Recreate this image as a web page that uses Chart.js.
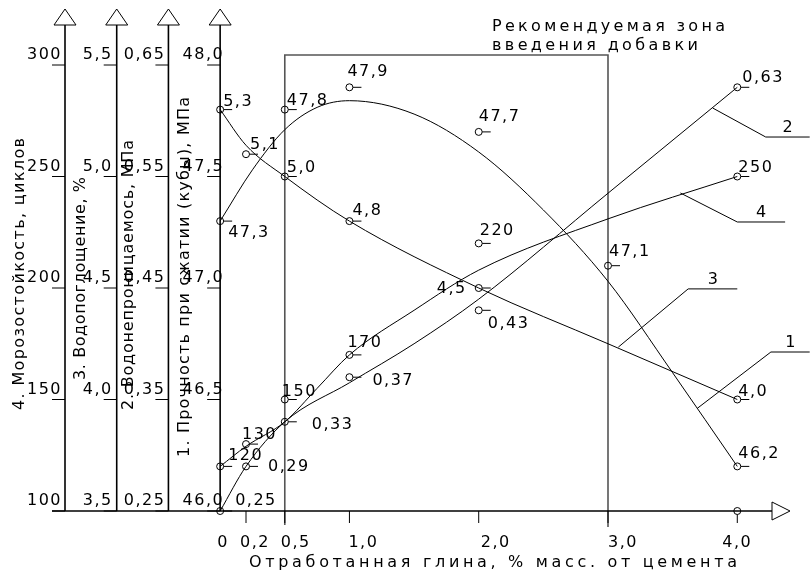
<!DOCTYPE html>
<html>
<head>
<meta charset="utf-8">
<script src="https://cdn.jsdelivr.net/npm/chart.js@4.4.0/dist/chart.umd.min.js"></script>
<style>
  html, body { margin: 0; padding: 0; background: #fff; }
  #wrap { position: relative; width: 811px; height: 573px; }
</style>
</head>
<body>
<div id="wrap"><canvas id="chart"></canvas></div>
<script>
// measured points (x = clay, % of cement mass)
const strengthClay = [0, 0.5, 1.0, 2.0, 3.0, 4.0]
const strength = [47.3, 47.8, 47.9, 47.7, 47.1, 46.2]
const impermClay = [0, 0.2, 0.5, 1.0, 2.0, 4.0]
const imperm = [0.25, 0.29, 0.33, 0.37, 0.43, 0.63]
const absorptionClay = [0, 0.2, 0.5, 1.0, 2.0, 4.0]
const absorption = [5.3, 5.1, 5.0, 4.8, 4.5, 4.0]
const frostClay = [0, 0.2, 0.5, 1.0, 2.0, 4.0]
const frost = [120, 130, 150, 170, 220, 250]

// approximating curves
const strengthFitClay = [0, 0.25, 0.5, 0.75, 1.0, 1.5, 2.0, 2.5, 3.0, 3.5, 4.0]
const strengthFit = [47.30, 47.53, 47.71, 47.81, 47.84, 47.78, 47.61, 47.35, 47.03, 46.62, 46.20]
const impermFitClay = [0, 0.2, 0.5, 1.0, 1.5, 2.0, 3.0, 4.0]
const impermFit = [0.25, 0.29, 0.33, 0.365, 0.40, 0.44, 0.535, 0.63]
const absorptionFitClay = [0, 0.2, 0.5, 1.0, 2.0, 3.0, 4.0]
const absorptionFit = [5.3, 5.14, 5.0, 4.8, 4.5, 4.25, 4.0]
const frostFitClay = [0, 0.2, 0.5, 0.75, 1.0, 1.5, 2.0, 3.0, 4.0]
const frostFit = [120, 129, 140, 155, 170, 190, 208, 231, 250]

const clayTicks = [0, 0.2, 0.5, 1.0, 2.0, 3.0, 4.0]
const clayTickLabels = ['0', '0,2', '0,5', '1,0', '2,0', '3,0', '4,0']
const frostTicks = [100, 150, 200, 250, 300]
const absorptionTicks = [3.5, 4.0, 4.5, 5.0, 5.5]
const impermTicks = [0.25, 0.35, 0.45, 0.55, 0.65]
const strengthTicks = [46.0, 46.5, 47.0, 47.5, 48.0]
const zoneClay = [0.5, 3.0]

const FONT = '16px "DejaVu Sans"'
const fmt = (v, d) => v.toFixed(d).replace('.', ',')
const pts = (xs, ys) => xs.map((x, i) => ({ x: x, y: ys[i] }))

// y axes are drawn by hand at these clay positions (left of x = 0)
const axes = [
  { id: 'yFrost', at: -1.2, ticks: frostTicks, d: 0, labelDx: -3, title: '4. Морозостойкость, циклов', titleDx: -41, span: [410, 138] },
  { id: 'yAbs', at: -0.8, ticks: absorptionTicks, d: 1, labelDx: -4, title: '3. Водопоглощение, %', titleDx: -32, span: [380, 177] },
  { id: 'yImp', at: -0.4, ticks: impermTicks, d: 2, labelDx: -3, title: '2. Водонепроницаемось, МПа', titleDx: -35, span: [410, 140] },
  { id: 'yStr', at: 0, ticks: strengthTicks, d: 1, labelDx: 4, title: '1. Прочность при сжатии (кубы), МПа', titleDx: -31, span: [457, 97] }
]

// curve call-outs, in clay / frost-scale units
const leaders = [
  { n: '1', p: [[3.69, 146], [4.26, 171.3], [4.56, 171.3]] },
  { n: '2', p: [[3.81, 280.7], [4.22, 267.7], [4.56, 267.7]] },
  { n: '3', p: [[3.08, 173.5], [3.62, 199.6], [4.0, 199.6]] },
  { n: '4', p: [[3.56, 242.6], [4.0, 229.6], [4.37, 229.6]] }
]

function spread(ctx, text, x, y, width) {
  ctx.letterSpacing = '0px'
  const w = ctx.measureText(text).width
  ctx.letterSpacing = ((width - w) / Math.max(text.length - 1, 1)) + 'px'
  ctx.fillText(text, x, y)
  ctx.letterSpacing = '0px'
}

const drawing = {
  id: 'drawing',
  beforeDatasetsDraw(chart) {
    const ctx = chart.ctx
    const xs = chart.scales.x
    const area = chart.chartArea
    const yf = chart.scales.yFrost
    ctx.save()
    ctx.strokeStyle = '#000'
    ctx.fillStyle = '#000'
    ctx.font = FONT

    // recommended zone
    const zl = xs.getPixelForValue(zoneClay[0])
    const zr = xs.getPixelForValue(zoneClay[1])
    const zt = area.top - 10
    ctx.strokeStyle = '#555'
    ctx.lineWidth = 1.6
    ctx.beginPath()
    ctx.moveTo(zl, area.bottom + 14); ctx.lineTo(zl, zt); ctx.lineTo(zr, zt); ctx.lineTo(zr, area.bottom + 16)
    ctx.stroke()
    ctx.textAlign = 'left'
    spread(ctx, 'Рекомендуемая зона', 492, 31, 233)
    spread(ctx, 'введения добавки', 492, 50, 206)

    // y axes
    ctx.strokeStyle = '#000'
    axes.forEach(a => {
      const px = xs.getPixelForValue(a.at)
      const sc = chart.scales[a.id]
      ctx.lineWidth = 1.6
      ctx.beginPath()
      ctx.moveTo(px, area.bottom); ctx.lineTo(px, area.top - 40)
      ctx.stroke()
      ctx.lineWidth = 1
      ctx.beginPath()
      ctx.moveTo(px - 11, area.top - 40); ctx.lineTo(px + 11, area.top - 40); ctx.lineTo(px, area.top - 56); ctx.closePath()
      ctx.stroke()
      ctx.textAlign = 'right'
      ctx.letterSpacing = '1.5px'
      a.ticks.forEach(t => {
        const py = sc.getPixelForValue(t)
        ctx.beginPath()
        ctx.moveTo(px - 13, py); ctx.lineTo(px, py)
        ctx.stroke()
        ctx.fillText(fmt(t, a.d), px + a.labelDx, py - 6)
      })
      ctx.letterSpacing = '0px'
      ctx.save()
      ctx.translate(px + a.titleDx, a.span[0])
      ctx.rotate(-Math.PI / 2)
      ctx.textAlign = 'left'
      spread(ctx, a.title, 0, 0, a.span[0] - a.span[1])
      ctx.restore()
    })

    // x axis
    const xl = xs.getPixelForValue(axes[0].at) - 13
    ctx.lineWidth = 1.6
    ctx.beginPath()
    ctx.moveTo(xl, area.bottom); ctx.lineTo(area.right - 17, area.bottom)
    ctx.stroke()
    ctx.lineWidth = 1
    ctx.beginPath()
    ctx.moveTo(area.right - 17, area.bottom - 9); ctx.lineTo(area.right - 17, area.bottom + 9); ctx.lineTo(area.right + 1, area.bottom); ctx.closePath()
    ctx.stroke()
    const shift = [-3, -6, -4, -1, 2, 0, -15]
    ctx.textAlign = 'left'
    ctx.letterSpacing = '1.5px'
    clayTicks.forEach((t, i) => {
      const px = xs.getPixelForValue(t)
      if (t > 0 && t < clayTicks[clayTicks.length - 1]) {
        ctx.beginPath(); ctx.moveTo(px, area.bottom); ctx.lineTo(px, area.bottom + 12); ctx.stroke()
      }
      ctx.fillText(clayTickLabels[i], px + shift[i], area.bottom + 36)
    })
    ctx.letterSpacing = '0px'
    const ex = xs.getPixelForValue(clayTicks[clayTicks.length - 1])
    ctx.beginPath(); ctx.arc(ex, area.bottom, 3.5, 0, Math.PI * 2); ctx.stroke()
    ctx.beginPath(); ctx.moveTo(ex, area.bottom + 3.5); ctx.lineTo(ex, area.bottom + 12); ctx.stroke()
    spread(ctx, 'Отработанная глина, % масс. от цемента', 249, area.bottom + 56, 488)

    // call-outs
    leaders.forEach(l => {
      const p = l.p.map(q => [xs.getPixelForValue(q[0]), yf.getPixelForValue(q[1])])
      ctx.beginPath()
      ctx.moveTo(p[0][0], p[0][1]); ctx.lineTo(p[1][0], p[1][1]); ctx.lineTo(p[2][0], p[2][1])
      ctx.stroke()
      ctx.textAlign = 'center'
      ctx.fillText(l.n, (p[1][0] + p[2][0]) / 2, p[1][1] - 5)
    })
    ctx.restore()
  },
  afterDatasetsDraw(chart) {
    const ctx = chart.ctx
    ctx.save()
    ctx.strokeStyle = '#000'
    ctx.fillStyle = '#000'
    ctx.lineWidth = 1
    ctx.font = FONT
    ctx.textAlign = 'left'
    ctx.letterSpacing = '1.5px'
    chart.data.datasets.forEach((ds, di) => {
      if (!ds.labelOffsets) return
      chart.getDatasetMeta(di).data.forEach((el, i) => {
        ctx.beginPath()
        ctx.moveTo(el.x + 3.5, el.y); ctx.lineTo(el.x + 12, el.y)
        ctx.stroke()
        const o = ds.labelOffsets[i]
        ctx.fillText(fmt(ds.data[i].y, ds.digits), el.x + o[0], el.y + o[1])
      })
    })
    ctx.restore()
  }
}

const curve = (xs, ys, axis) => ({
  type: 'line', data: pts(xs, ys), yAxisID: axis,
  borderColor: '#000', borderWidth: 1, pointRadius: 0,
  cubicInterpolationMode: 'monotone', fill: false, clip: false
})
const marks = (xs, ys, axis, digits, offsets) => ({
  type: 'scatter', data: pts(xs, ys), yAxisID: axis,
  pointRadius: 3.5, pointStyle: 'circle', borderColor: '#000', borderWidth: 1,
  backgroundColor: 'rgba(0,0,0,0)', clip: false,
  digits: digits, labelOffsets: offsets
})

const yScale = (min, max) => ({ type: 'linear', min: min, max: max, display: false })

new Chart(document.getElementById('chart'), {
  type: 'line',
  data: {
    datasets: [
      curve(strengthFitClay, strengthFit, 'yStr'),
      curve(impermFitClay, impermFit, 'yImp'),
      curve(absorptionFitClay, absorptionFit, 'yAbs'),
      curve(frostFitClay, frostFit, 'yFrost'),
      marks(strengthClay, strength, 'yStr', 1, [[8, 16], [2, -5], [-2, -11], [0, -11], [1, -10], [1, -8]]),
      marks(impermClay, imperm, 'yImp', 2, [[15, -6], [22, 5], [27, 7], [23, 8], [9, 18], [5, -5]]),
      marks(absorptionClay, absorption, 'yAbs', 1, [[3, -4], [4, -5], [2, -5], [3, -6], [-42, 5], [1, -4]]),
      marks(frostClay, frost, 'yFrost', 0, [[8, -6], [-4, -5], [-3, -4], [-2, -8], [1, -8], [1, -5]])
    ]
  },
  options: {
    responsive: true,
    maintainAspectRatio: false,
    animation: false,
    layout: { padding: { left: 65, right: 22, top: 65, bottom: 62 } },
    plugins: { legend: { display: false }, tooltip: { enabled: false } },
    scales: {
      x: { type: 'linear', min: -1.2, max: 4.4, display: false },
      yStr: yScale(46, 48),
      yImp: yScale(0.25, 0.65),
      yAbs: yScale(3.5, 5.5),
      yFrost: yScale(100, 300)
    }
  },
  plugins: [drawing]
})
</script>
</body>
</html>
